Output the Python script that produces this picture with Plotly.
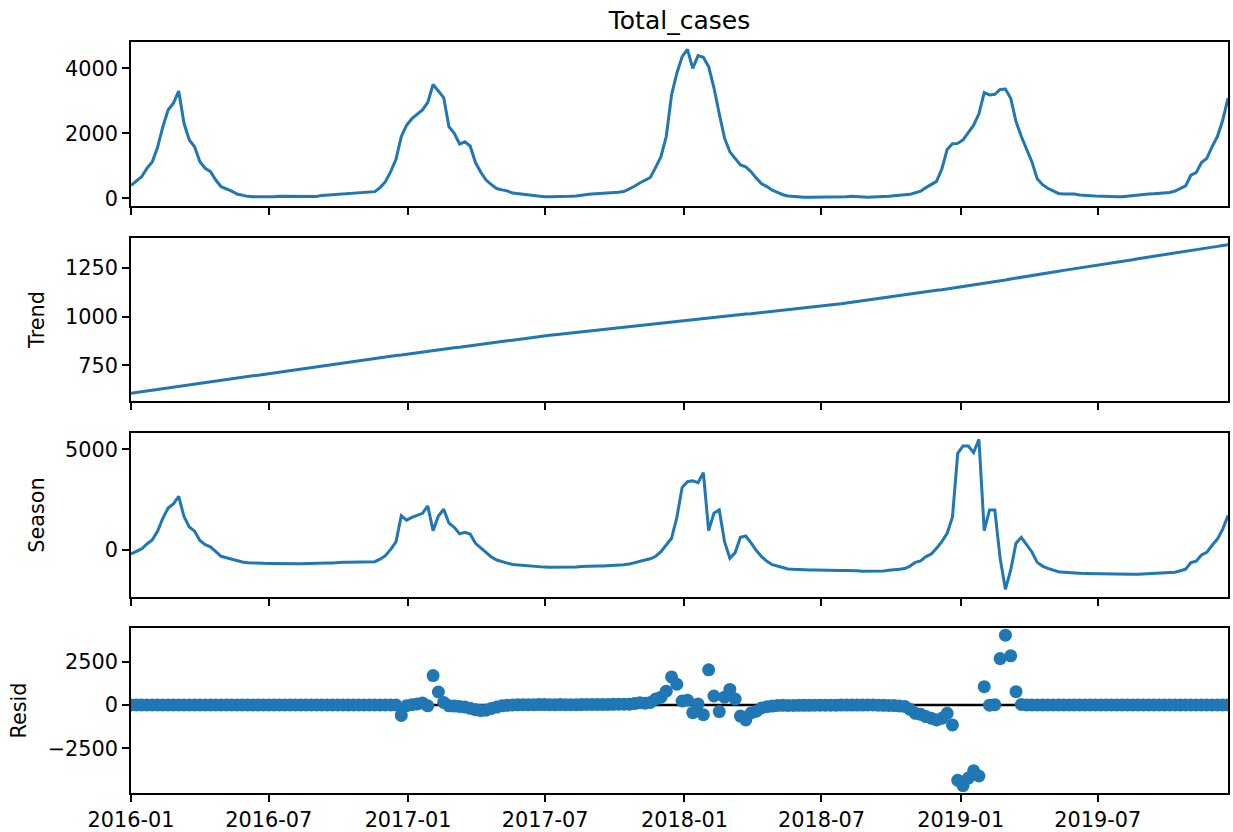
import pandas as pd
import plotly.graph_objects as go
from plotly.subplots import make_subplots

# Weekly index of the series
weeks = pd.date_range("2016-01-01", periods=208, freq="7D")

total_cases = [
    400, 520, 665, 920, 1120, 1560, 2200, 2717, 2923, 3300,
    2308, 1794, 1588, 1126, 923, 820, 563, 357, 290, 220,
    130, 90, 60, 45, 40, 40, 40, 45, 60, 60,
    55, 45, 40, 45, 50, 55, 90, 100, 110, 140,
    150, 155, 160, 180, 185, 200, 205, 330, 512, 820,
    1200, 1900, 2250, 2450, 2600, 2720, 2950, 3500, 3300, 3100,
    2200, 2000, 1670, 1740, 1610, 1100, 800, 560, 420, 300,
    260, 230, 160, 140, 110, 90, 70, 55, 50, 50,
    50, 55, 45, 60, 70, 100, 120, 130, 140, 140,
    150, 170, 190, 210, 280, 370, 470, 563, 640, 950,
    1280, 1900, 3180, 3850, 4360, 4580, 4000, 4390, 4340, 4050,
    3400, 2600, 1850, 1430, 1230, 1025, 970, 820, 620, 450,
    360, 250, 180, 110, 70, 50, 40, 30, 35, 35,
    30, 35, 40, 40, 45, 50, 60, 45, 30, 35,
    40, 40, 55, 65, 80, 95, 110, 123, 170, 220,
    330, 420, 520, 900, 1500, 1680, 1690, 1800, 2030, 2250,
    2600, 3250, 3180, 3200, 3350, 3360, 3080, 2360, 1900, 1480,
    1120, 600, 420, 310, 220, 150, 135, 135, 130, 100,
    80, 80, 70, 60, 60, 55, 50, 50, 70, 85,
    90, 110, 130, 140, 150, 155, 180, 225, 300, 380,
    710, 790, 1100, 1230, 1590, 1900, 2400, 3080,
]

trend = [
    607, 611, 615, 619, 622, 626, 630, 634, 638, 642,
    646, 649, 653, 657, 661, 665, 669, 672, 676, 680,
    684, 688, 692, 696, 699, 703, 707, 711, 715, 719,
    723, 726, 730, 734, 738, 742, 746, 749, 753, 757,
    761, 765, 769, 773, 776, 780, 784, 788, 792, 796,
    800, 803, 807, 811, 814, 818, 822, 825, 829, 832,
    836, 840, 843, 847, 850, 854, 858, 861, 865, 868,
    872, 876, 879, 883, 886, 890, 894, 897, 901, 904,
    907, 910, 913, 916, 919, 922, 925, 928, 931, 934,
    937, 940, 943, 946, 949, 952, 955, 958, 961, 964,
    967, 970, 973, 977, 980, 983, 985, 988, 991, 994,
    996, 999, 1002, 1005, 1007, 1010, 1013, 1015, 1018, 1021,
    1024, 1026, 1029, 1032, 1035, 1037, 1040, 1043, 1045, 1048,
    1051, 1055, 1059, 1062, 1066, 1070, 1074, 1078, 1081, 1085,
    1089, 1093, 1097, 1100, 1104, 1108, 1112, 1116, 1119, 1123,
    1127, 1131, 1135, 1138, 1142, 1146, 1150, 1153, 1158, 1162,
    1167, 1171, 1175, 1180, 1184, 1188, 1193, 1197, 1202, 1206,
    1210, 1215, 1219, 1223, 1228, 1232, 1237, 1241, 1245, 1250,
    1254, 1258, 1263, 1267, 1271, 1275, 1280, 1284, 1288, 1292,
    1297, 1301, 1305, 1309, 1314, 1318, 1322, 1326, 1331, 1335,
    1339, 1343, 1348, 1352, 1356, 1360, 1365, 1369,
]

season = [
    -200, -90, 50, 300, 500, 930, 1570, 2080, 2285, 2660,
    1660, 1145, 935, 470, 260, 155, -105, -315, -385, -460,
    -555, -600, -630, -650, -660, -663, -667, -666, -655, -659,
    -668, -681, -690, -689, -688, -687, -656, -649, -643, -617,
    -611, -610, -609, -593, -591, -580, -579, -458, -280, 30,
    400, 1700, 1480, 1620, 1720, 1820, 2185, 960, 1688, 2020,
    1330, 1125, 800, 880, 794, 331, 107, -143, -345, -500,
    -590, -650, -719, -743, -776, -800, -824, -842, -851, -854,
    -857, -855, -868, -856, -849, -822, -805, -798, -791, -794,
    -787, -770, -753, -736, -700, -620, -560, -497, -440, -310,
    -80, 250, 580, 1620, 3110, 3390, 3430, 3340, 3840, 960,
    1820, 1990, 414, -414, -130, 630, 695, 350, -30, -330,
    -560, -730, -800, -900, -940, -960, -980, -995, -993, -1000,
    -1010, -1010, -1010, -1015, -1015, -1015, -1010, -1030, -1050, -1050,
    -1050, -1053, -1042, -1005, -990, -960, -920, -800, -612, -546,
    -331, -199, 83, 414, 827, 1622, 4800, 5164, 5164, 4832,
    5495, 960, 1986, 1986, -414, -1953, -993, 331, 629, 270,
    -100, -615, -800, -910, -1000, -1080, -1100, -1105, -1115, -1150,
    -1174, -1178, -1193, -1207, -1211, -1220, -1230, -1234, -1218, -1207,
    -1207, -1191, -1175, -1169, -1164, -1163, -1142, -1101, -1031, -955,
    -629, -553, -248, -122, 234, 540, 1035, 1711,
]

resid = (
    [0] * 51
    + [-600, -40, 20, 60, 120, -50, 1700, 750, 150]
    + [-50, -60, -80, -120, -190, -270, -320, -300, -200, -120, -50, -20]
    + [0, 10, 15, 20, 20, 25, 25, 20, 20, 25, 20, 15, 20, 25, 30, 30, 35,
       30, 35, 40, 45, 50]
    + [50, 80, 130, 100, 150, 340, 450, 800, 1620, 1200, 230, 280, -440, 60,
       -560, 2030, 520, -380, 450, 900, 340, -640, -860, -460, -360, -170,
       -100, -60, -30]
    + [-20, -25, -25, -20, -18, -17, -13, -11, -10, -9, -7, -6, -5, -4, -3,
       -2, 0, 0, -10, -20, -30, -34, -53, -82]
    + [-250, -480, -540, -670, -760, -860, -770, -480, -1150, -4350, -4650,
       -4220, -3800, -4100, 1060, -10, 20, 2680, 4030, 2840, 770, 30]
    + [0] * 39
)

BLUE = "#1f77b4"
FONT = "DejaVu Sans"
TICK_SIZE = 20.8

fig = make_subplots(rows=4, cols=1, shared_xaxes=True)

fig.add_trace(go.Scatter(x=weeks, y=total_cases, mode="lines",
                         line=dict(color=BLUE, width=3)), row=1, col=1)
fig.add_trace(go.Scatter(x=weeks, y=trend, mode="lines",
                         line=dict(color=BLUE, width=3)), row=2, col=1)
fig.add_trace(go.Scatter(x=weeks, y=season, mode="lines",
                         line=dict(color=BLUE, width=3)), row=3, col=1)
fig.add_trace(go.Scatter(x=weeks, y=resid, mode="markers",
                         marker=dict(color=BLUE, size=13, line=dict(width=0))),
              row=4, col=1)
fig.add_hline(y=0, line=dict(color="black", width=2.5), layer="below",
              row=4, col=1)

axis_common = dict(
    showline=True, linecolor="black", linewidth=1.6, mirror=True,
    ticks="outside", ticklen=7, tickwidth=1.6, tickcolor="black",
    showgrid=False, zeroline=False, automargin=False,
    tickfont=dict(family=FONT, size=TICK_SIZE, color="black"),
)

for r in range(1, 5):
    fig.update_xaxes(
        **axis_common,
        range=[weeks[0], weeks[-1]],
        tick0="2016-01-01", dtick="M6", tickformat="%Y-%m",
        row=r, col=1,
    )
    fig.update_yaxes(**axis_common, row=r, col=1)

# Panel heights (paper coordinates)
fig.update_layout(
    yaxis=dict(domain=[0.7816, 1.0], range=[-237, 4809],
               tickvals=[0, 2000, 4000]),
    yaxis2=dict(domain=[0.522, 0.739], range=[567, 1403],
                tickvals=[750, 1000, 1250],
                title=dict(text="Trend", font=dict(family=FONT, size=TICK_SIZE, color="black"))),
    yaxis3=dict(domain=[0.261, 0.4794], range=[-2334, 5809],
                tickvals=[0, 5000],
                title=dict(text="Season", font=dict(family=FONT, size=TICK_SIZE, color="black"))),
    yaxis4=dict(domain=[0.0, 0.2197], range=[-5081, 4446],
                tickvals=[-2500, 0, 2500],
                title=dict(text="Resid", font=dict(family=FONT, size=TICK_SIZE, color="black"))),
)

fig.update_layout(
    width=1233, height=832,
    margin=dict(l=131, r=5, t=42, b=39),
    paper_bgcolor="white", plot_bgcolor="white",
    showlegend=False,
    font=dict(family=FONT, color="black"),
    title=dict(text="Total_cases", font=dict(family=FONT, size=25, color="black"),
               x=0.5, xref="paper", xanchor="center",
               y=1 - 20 / 832, yref="container", yanchor="middle"),
)

fig.write_html("out.html")
